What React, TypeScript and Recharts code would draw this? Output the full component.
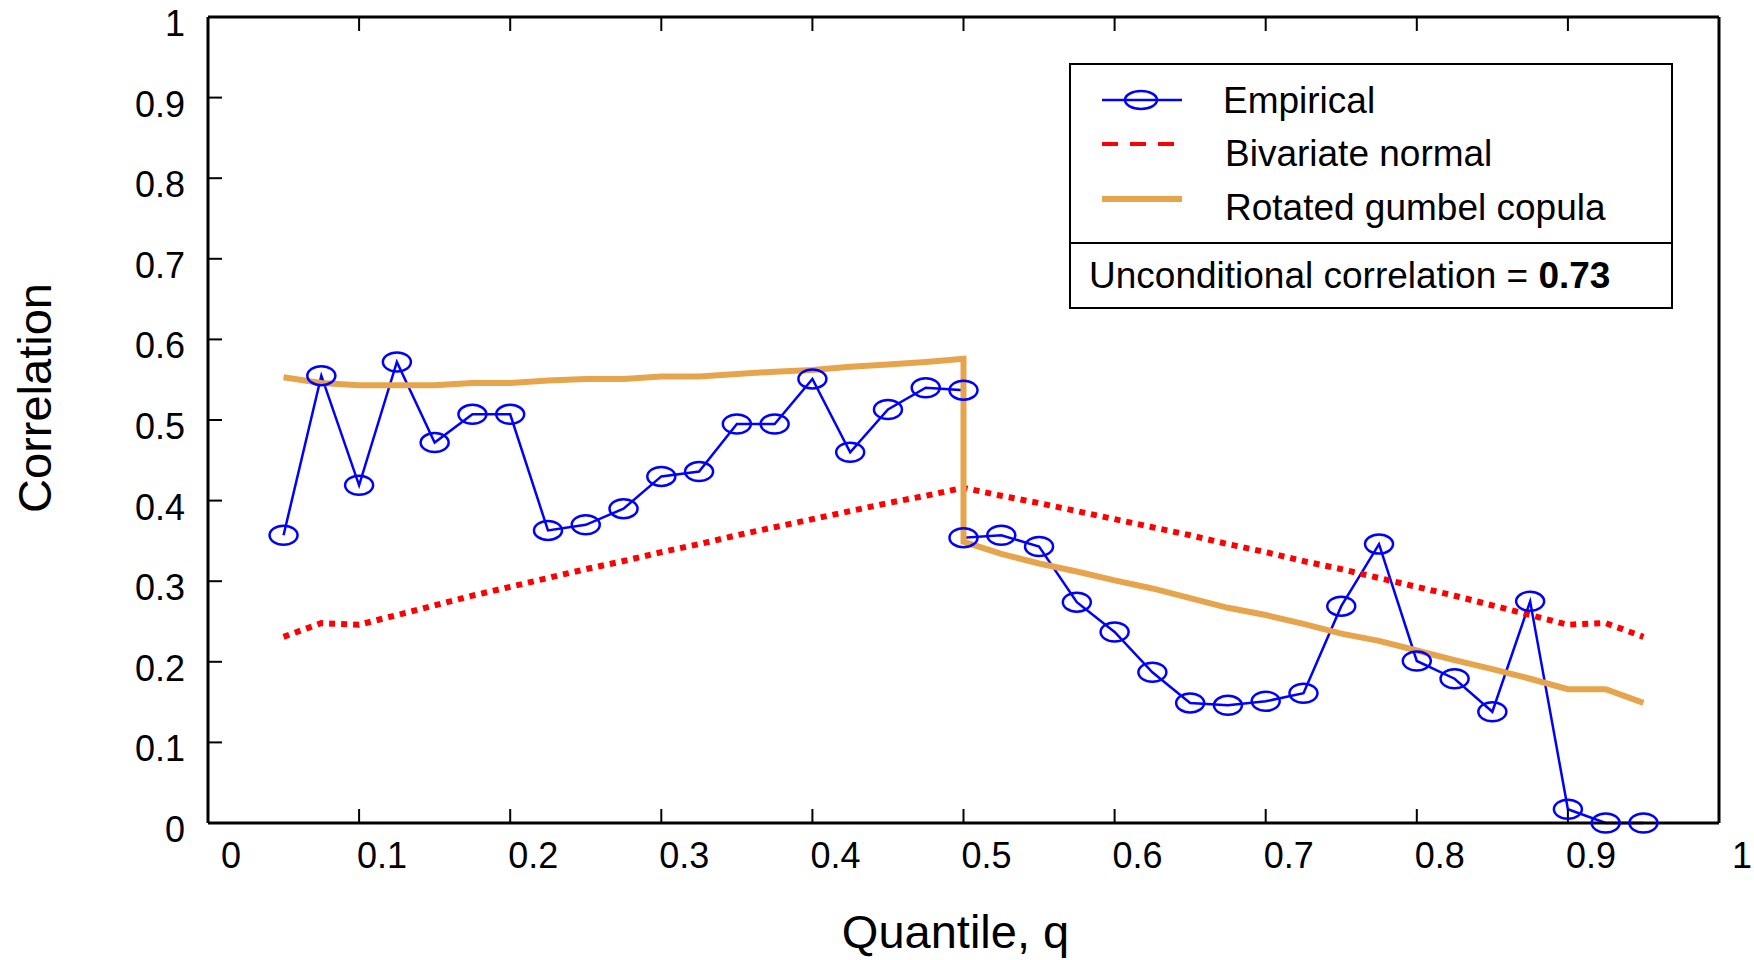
import { LineChart, Line, XAxis, YAxis, Legend } from "recharts";

// quantile grid: lower tail 0.05..0.5, upper tail 0.5..0.95
const quantiles = [
  0.05, 0.075, 0.1, 0.125, 0.15, 0.175, 0.2, 0.225, 0.25, 0.275, 0.3, 0.325,
  0.35, 0.375, 0.4, 0.425, 0.45, 0.475, 0.5,
  0.5, 0.525, 0.55, 0.575, 0.6, 0.625, 0.65, 0.675, 0.7, 0.725, 0.75, 0.775,
  0.8, 0.825, 0.85, 0.875, 0.9, 0.925, 0.95,
];

const empirical = [
  0.357, 0.555, 0.419, 0.572, 0.472, 0.507, 0.507, 0.363, 0.37, 0.39, 0.43,
  0.436, 0.495, 0.495, 0.551, 0.46, 0.513, 0.54, 0.537,
  0.354, 0.357, 0.343, 0.274, 0.237, 0.187, 0.149, 0.146, 0.151, 0.161, 0.269,
  0.346, 0.201, 0.179, 0.138, 0.275, 0.017, 0.0, 0.0,
];

const bivariateNormal = [
  0.231, 0.248, 0.246, 0.258, 0.27, 0.282, 0.293, 0.304, 0.315, 0.325, 0.336,
  0.346, 0.357, 0.367, 0.377, 0.387, 0.397, 0.406, 0.416,
  0.416, 0.406, 0.397, 0.387, 0.377, 0.367, 0.357, 0.346, 0.336, 0.325, 0.315,
  0.304, 0.293, 0.282, 0.27, 0.258, 0.246, 0.248, 0.231,
];

const rotatedGumbel = [
  0.553, 0.546, 0.543, 0.543, 0.543, 0.546, 0.546, 0.549, 0.551, 0.551, 0.554,
  0.554, 0.557, 0.56, 0.562, 0.566, 0.569, 0.572, 0.576,
  0.349, 0.334, 0.322, 0.312, 0.301, 0.291, 0.279, 0.267, 0.258, 0.247, 0.235,
  0.226, 0.214, 0.202, 0.191, 0.179, 0.166, 0.166, 0.149,
];

const xTicks = [0, 0.1, 0.2, 0.3, 0.4, 0.5, 0.6, 0.7, 0.8, 0.9, 1];
const yTicks = [0, 0.1, 0.2, 0.3, 0.4, 0.5, 0.6, 0.7, 0.8, 0.9, 1];

const seriesNames = ["Empirical", "Bivariate normal", "Rotated gumbel copula"];
const unconditionalCorr = "0.73";

const FONT = '"Liberation Sans", Arial, Helvetica, sans-serif';
const BLUE = "#0000ff";
const RED = "#ff0000";
const ORANGE = "#e6a54c";

const data = quantiles.map((q, i) => ({
  q,
  empirical: empirical[i],
  normal: bivariateNormal[i],
  gumbel: rotatedGumbel[i],
}));

const axisLine = { stroke: "#000", strokeWidth: 3 };
const tickLine = { stroke: "#000", strokeWidth: 2 };

function EllipseDot(props: any) {
  const { cx, cy, index } = props;
  if (cx == null || cy == null) return <g key={`d-${index}`} />;
  return (
    <ellipse
      key={`d-${index}`}
      cx={cx}
      cy={cy}
      rx={14}
      ry={9.5}
      fill="none"
      stroke={BLUE}
      strokeWidth={2.5}
    />
  );
}

function XTick(props: any) {
  const { x, y, payload } = props;
  return (
    <text x={x + 23} y={y + 59} textAnchor="middle" fontFamily={FONT} fontSize={36} fill="#000">
      {String(payload.value)}
    </text>
  );
}

function YTick(props: any) {
  const { x, y, payload } = props;
  return (
    <text x={x - 37} y={y + 19} textAnchor="end" fontFamily={FONT} fontSize={36} fill="#000">
      {String(payload.value)}
    </text>
  );
}

const NoTick = () => <g />;

function XLabel(props: any) {
  const { x, y, width } = props.viewBox;
  return (
    <text x={x + width / 2 - 8} y={y + 125} textAnchor="middle" fontFamily={FONT} fontSize={47} fill="#000">
      Quantile, q
    </text>
  );
}

function YLabel(props: any) {
  const { x, y, height } = props.viewBox;
  const cx = x - 57;
  const cy = y + height / 2 - 22;
  return (
    <text
      x={cx}
      y={cy}
      transform={`rotate(-90 ${cx} ${cy})`}
      textAnchor="middle"
      fontFamily={FONT}
      fontSize={47}
      fill="#000"
    >
      Correlation
    </text>
  );
}

function LegendBox() {
  return (
    <svg width={604} height={246} style={{ display: "block" }}>
      <rect x={1} y={1} width={602} height={244} fill="#fff" stroke="#000" strokeWidth={2} />
      <line x1={1} x2={603} y1={180} y2={180} stroke="#000" strokeWidth={2} />
      <line x1={33} x2={113} y1={37} y2={37} stroke={BLUE} strokeWidth={2.5} />
      <ellipse cx={72} cy={37} rx={16} ry={9} fill="none" stroke={BLUE} strokeWidth={2.5} />
      <text x={154} y={50} fontFamily={FONT} fontSize={37} fill="#000">
        {seriesNames[0]}
      </text>
      <line x1={33} x2={105} y1={81} y2={81} stroke={RED} strokeWidth={4} strokeDasharray="16 12" />
      <text x={156} y={103} fontFamily={FONT} fontSize={37} fill="#000">
        {seriesNames[1]}
      </text>
      <line x1={33} x2={113} y1={136} y2={136} stroke={ORANGE} strokeWidth={6} />
      <text x={156} y={157} fontFamily={FONT} fontSize={37} fill="#000">
        {seriesNames[2]}
      </text>
      <text x={20} y={225} fontFamily={FONT} fontSize={37} fill="#000">
        Unconditional correlation = <tspan fontWeight="bold">{unconditionalCorr}</tspan>
      </text>
    </svg>
  );
}

export default function App() {
  return (
    <div style={{ position: "absolute", left: 0, top: 0, width: 1754, height: 960, background: "#fff" }}>
      <LineChart
        width={1754}
        height={960}
        data={data}
        margin={{ top: 16, right: 34, bottom: 77, left: 108 }}
      >
        <XAxis
          xAxisId="bottom"
          dataKey="q"
          type="number"
          domain={[0, 1]}
          ticks={xTicks}
          interval={0}
          orientation="bottom"
          height={60}
          tickSize={-14}
          tickMargin={0}
          axisLine={axisLine}
          tickLine={tickLine}
          tick={XTick}
          label={XLabel}
        />
        <XAxis
          xAxisId="top"
          dataKey="q"
          type="number"
          domain={[0, 1]}
          ticks={xTicks}
          interval={0}
          orientation="top"
          height={1}
          tickSize={-14}
          axisLine={axisLine}
          tickLine={tickLine}
          tick={NoTick}
        />
        <YAxis
          yAxisId="left"
          type="number"
          domain={[0, 1]}
          ticks={yTicks}
          interval={0}
          width={100}
          tickSize={-14}
          tickMargin={0}
          axisLine={axisLine}
          tickLine={tickLine}
          tick={YTick}
          label={YLabel}
        />
        <YAxis
          yAxisId="right"
          orientation="right"
          type="number"
          domain={[0, 1]}
          ticks={yTicks}
          interval={0}
          width={1}
          tickSize={-14}
          axisLine={axisLine}
          tickLine={tickLine}
          tick={NoTick}
        />
        <Legend
          layout="horizontal"
          verticalAlign="middle"
          align="center"
          content={LegendBox}
          wrapperStyle={{ position: "absolute", left: 1069, top: 63, width: 604, height: 246, margin: 0, padding: 0 }}
        />
        <Line
          xAxisId="bottom"
          yAxisId="left"
          dataKey="empirical"
          name={seriesNames[0]}
          type="linear"
          stroke={BLUE}
          strokeWidth={2.5}
          dot={EllipseDot}
          isAnimationActive={false}
        />
        <Line
          xAxisId="bottom"
          yAxisId="left"
          dataKey="normal"
          name={seriesNames[1]}
          type="linear"
          stroke={RED}
          strokeWidth={6}
          strokeDasharray="6 6"
          dot={false}
          isAnimationActive={false}
        />
        <Line
          xAxisId="bottom"
          yAxisId="left"
          dataKey="gumbel"
          name={seriesNames[2]}
          type="linear"
          stroke={ORANGE}
          strokeWidth={6}
          dot={false}
          isAnimationActive={false}
        />
      </LineChart>
    </div>
  );
}
